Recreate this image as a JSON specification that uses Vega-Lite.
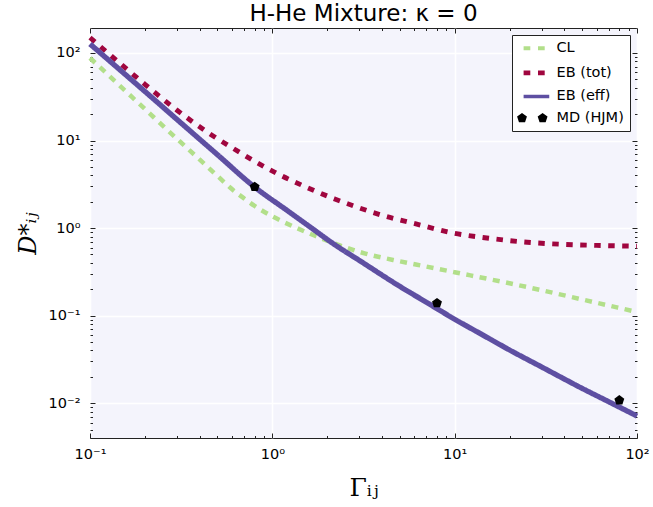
{
  "$schema": "https://vega.github.io/schema/vega-lite/v6.json",
  "width": 547,
  "height": 410,
  "autosize": "none",
  "padding": {"left": 90, "top": 28, "right": 16, "bottom": 69},
  "background": "white",
  "title": {
    "text": "H-He Mixture: κ = 0",
    "font": "DejaVu Sans",
    "fontSize": 23,
    "fontWeight": "normal",
    "color": "black",
    "anchor": "middle",
    "offset": 2
  },
  "config": {
    "view": {"fill": "#f4f4fc", "stroke": "#222222", "strokeWidth": 1},
    "axis": {
      "domain": false,
      "labelFont": "DejaVu Sans",
      "labelFontSize": 14.5,
      "labelColor": "black",
      "labelFlush": false,
      "labelOverlap": false,
      "tickColor": "#222222",
      "tickWidth": 1,
      "gridColor": "white",
      "gridWidth": 1.5
    }
  },
  "datasets": {
    "curves": [
      {"series": "CL", "gamma": 0.1, "d": 87.7},
      {"series": "CL", "gamma": 0.15, "d": 40.0},
      {"series": "CL", "gamma": 0.2, "d": 22.9},
      {"series": "CL", "gamma": 0.3, "d": 10.45},
      {"series": "CL", "gamma": 0.4, "d": 6.04},
      {"series": "CL", "gamma": 0.5, "d": 3.94},
      {"series": "CL", "gamma": 0.6, "d": 2.79},
      {"series": "CL", "gamma": 0.7, "d": 2.18},
      {"series": "CL", "gamma": 0.8, "d": 1.79},
      {"series": "CL", "gamma": 1.0, "d": 1.36},
      {"series": "CL", "gamma": 1.3, "d": 1.045},
      {"series": "CL", "gamma": 1.7, "d": 0.822},
      {"series": "CL", "gamma": 2.3, "d": 0.644},
      {"series": "CL", "gamma": 3.2, "d": 0.515},
      {"series": "CL", "gamma": 5, "d": 0.417},
      {"series": "CL", "gamma": 7, "d": 0.363},
      {"series": "CL", "gamma": 10, "d": 0.313},
      {"series": "CL", "gamma": 20, "d": 0.234},
      {"series": "CL", "gamma": 30, "d": 0.195},
      {"series": "CL", "gamma": 50, "d": 0.153},
      {"series": "CL", "gamma": 100, "d": 0.110},
      {"series": "EB (tot)", "gamma": 0.1, "d": 150},
      {"series": "EB (tot)", "gamma": 0.15, "d": 72.6},
      {"series": "EB (tot)", "gamma": 0.2, "d": 43.9},
      {"series": "EB (tot)", "gamma": 0.3, "d": 22.2},
      {"series": "EB (tot)", "gamma": 0.45, "d": 12.1},
      {"series": "EB (tot)", "gamma": 0.6, "d": 8.3},
      {"series": "EB (tot)", "gamma": 0.8, "d": 5.8},
      {"series": "EB (tot)", "gamma": 1.1, "d": 4.04},
      {"series": "EB (tot)", "gamma": 1.5, "d": 3.0},
      {"series": "EB (tot)", "gamma": 2.2, "d": 2.15},
      {"series": "EB (tot)", "gamma": 3, "d": 1.70},
      {"series": "EB (tot)", "gamma": 4, "d": 1.40},
      {"series": "EB (tot)", "gamma": 6, "d": 1.13},
      {"series": "EB (tot)", "gamma": 10, "d": 0.87},
      {"series": "EB (tot)", "gamma": 15, "d": 0.771},
      {"series": "EB (tot)", "gamma": 25, "d": 0.689},
      {"series": "EB (tot)", "gamma": 40, "d": 0.651},
      {"series": "EB (tot)", "gamma": 60, "d": 0.634},
      {"series": "EB (tot)", "gamma": 100, "d": 0.621},
      {"series": "EB (eff)", "gamma": 0.1, "d": 126.8},
      {"series": "EB (eff)", "gamma": 0.15, "d": 61.1},
      {"series": "EB (eff)", "gamma": 0.2, "d": 36.4},
      {"series": "EB (eff)", "gamma": 0.3, "d": 17.4},
      {"series": "EB (eff)", "gamma": 0.5, "d": 6.89},
      {"series": "EB (eff)", "gamma": 0.8, "d": 2.94},
      {"series": "EB (eff)", "gamma": 1.2, "d": 1.60},
      {"series": "EB (eff)", "gamma": 1.6, "d": 1.04},
      {"series": "EB (eff)", "gamma": 2.2, "d": 0.646},
      {"series": "EB (eff)", "gamma": 3, "d": 0.427},
      {"series": "EB (eff)", "gamma": 5, "d": 0.216},
      {"series": "EB (eff)", "gamma": 7, "d": 0.142},
      {"series": "EB (eff)", "gamma": 10, "d": 0.091},
      {"series": "EB (eff)", "gamma": 14, "d": 0.0614},
      {"series": "EB (eff)", "gamma": 20, "d": 0.0405},
      {"series": "EB (eff)", "gamma": 30, "d": 0.0259},
      {"series": "EB (eff)", "gamma": 50, "d": 0.01476},
      {"series": "EB (eff)", "gamma": 70, "d": 0.01038},
      {"series": "EB (eff)", "gamma": 100, "d": 0.00713}
    ],
    "md": [
      {"series": "MD (HJM)", "gamma": 0.8, "d": 2.96},
      {"series": "MD (HJM)", "gamma": 8, "d": 0.139},
      {"series": "MD (HJM)", "gamma": 80, "d": 0.0108}
    ]
  },
  "layer": [
    {
      "data": {"name": "curves"},
      "mark": {"type": "line", "interpolate": "monotone", "strokeCap": "butt"},
      "encoding": {
        "x": {
          "field": "gamma",
          "type": "quantitative",
          "scale": {"type": "log", "domain": [0.1, 100], "nice": false},
          "axis": {
            "orient": "bottom",
            "values": [0.1, 0.2, 0.3, 0.4, 0.5, 0.6, 0.7, 0.8, 0.9, 1, 2, 3, 4, 5, 6, 7, 8, 9, 10, 20, 30, 40, 50, 60, 70, 80, 90, 100],
            "labelExpr": "datum.value === 0.1 ? '10⁻¹' : datum.value === 1 ? '10⁰' : datum.value === 10 ? '10¹' : datum.value === 100 ? '10²' : ''",
            "tickSize": {"condition": {"test": "abs(log(datum.value)/LN10 - round(log(datum.value)/LN10)) < 0.000001", "value": -5}, "value": -2.5},
            "gridOpacity": {"condition": {"test": "abs(log(datum.value)/LN10 - round(log(datum.value)/LN10)) < 0.000001", "value": 1}, "value": 0},
            "labelPadding": 14,
            "title": "Γᵢⱼ",
            "titleFont": "DejaVu Serif",
            "titleFontSize": 25,
            "titleFontWeight": "normal",
            "titleColor": "black",
            "titlePadding": 12
          }
        },
        "y": {
          "field": "d",
          "type": "quantitative",
          "scale": {"type": "log", "domain": [0.004, 193], "nice": false},
          "axis": {
            "orient": "left",
            "values": [0.004, 0.005, 0.006, 0.007, 0.008, 0.009, 0.01, 0.02, 0.03, 0.04, 0.05, 0.06, 0.07, 0.08, 0.09, 0.1, 0.2, 0.3, 0.4, 0.5, 0.6, 0.7, 0.8, 0.9, 1, 2, 3, 4, 5, 6, 7, 8, 9, 10, 20, 30, 40, 50, 60, 70, 80, 90, 100],
            "labelExpr": "datum.value === 0.01 ? '10⁻²' : datum.value === 0.1 ? '10⁻¹' : datum.value === 1 ? '10⁰' : datum.value === 10 ? '10¹' : datum.value === 100 ? '10²' : ''",
            "tickSize": {"condition": {"test": "abs(log(datum.value)/LN10 - round(log(datum.value)/LN10)) < 0.000001", "value": -5}, "value": -2.5},
            "gridOpacity": {"condition": {"test": "abs(log(datum.value)/LN10 - round(log(datum.value)/LN10)) < 0.000001", "value": 1}, "value": 0},
            "labelPadding": 15,
            "title": "D*ᵢⱼ",
            "titleFont": "DejaVu Serif",
            "titleFontStyle": "italic",
            "titleFontSize": 24,
            "titleFontWeight": "normal",
            "titleColor": "black",
            "titlePadding": 8
          }
        },
        "color": {
          "field": "series",
          "type": "nominal",
          "sort": ["CL", "EB (tot)", "EB (eff)", "MD (HJM)"],
          "scale": {
            "domain": ["CL", "EB (tot)", "EB (eff)", "MD (HJM)"],
            "range": ["#b2df8a", "#a0063f", "#5e4fa2", "#000000"]
          },
          "legend": {
            "title": null,
            "orient": "top-right",
            "offset": 7,
            "fillColor": "white",
            "strokeColor": "#222222",
            "padding": 6,
            "rowPadding": 5.6,
            "symbolSize": 225,
            "symbolOffset": 5.7,
            "labelOffset": 18.3,
            "labelFont": "DejaVu Sans",
            "labelFontSize": 14.5,
            "labelColor": "black",
            "encode": {
              "symbols": {
                "update": {
                  "shape": {"signal": "datum.value === 'MD (HJM)' ? 'M-1.193,-0.69L-0.537,-0.213L-0.787,0.558L-1.599,0.558L-1.849,-0.213ZM1.553,-0.69L2.209,-0.213L1.959,0.558L1.147,0.558L0.897,-0.213Z' : 'M-0.98,0H2.44'"},
                  "fill": {"signal": "datum.value === 'MD (HJM)' ? '#000000' : 'transparent'"},
                  "stroke": {"signal": "datum.value === 'CL' ? '#b2df8a' : datum.value === 'EB (tot)' ? '#a0063f' : datum.value === 'EB (eff)' ? '#5e4fa2' : 'transparent'"},
                  "strokeWidth": {"signal": "datum.value === 'CL' ? 4 : datum.value === 'EB (tot)' ? 4.7 : datum.value === 'EB (eff)' ? 3.5 : 0"},
                  "strokeDash": {"signal": "datum.value === 'EB (eff)' ? [1, 0] : [6.7, 7.7]"},
                  "size": {"value": 225},
                  "opacity": {"value": 1}
                }
              }
            }
          }
        },
        "strokeDash": {
          "field": "series",
          "type": "nominal",
          "scale": {"domain": ["CL", "EB (tot)", "EB (eff)"], "range": [[7, 6.5], [6.5, 7.5], [1, 0]]},
          "legend": null
        },
        "strokeWidth": {
          "field": "series",
          "type": "nominal",
          "scale": {"domain": ["CL", "EB (tot)", "EB (eff)"], "range": [4.5, 5.3, 4]},
          "legend": null
        }
      }
    },
    {
      "data": {"name": "md"},
      "mark": {
        "type": "point",
        "filled": true,
        "opacity": 1,
        "size": 108,
        "shape": "M0,-1L0.951,-0.309L0.588,0.809L-0.588,0.809L-0.951,-0.309Z"
      },
      "encoding": {
        "x": {
          "field": "gamma",
          "type": "quantitative",
          "axis": {
            "orient": "top",
            "values": [0.1, 0.2, 0.3, 0.4, 0.5, 0.6, 0.7, 0.8, 0.9, 1, 2, 3, 4, 5, 6, 7, 8, 9, 10, 20, 30, 40, 50, 60, 70, 80, 90, 100],
            "labels": false,
            "grid": false,
            "title": null,
            "tickSize": {"condition": {"test": "abs(log(datum.value)/LN10 - round(log(datum.value)/LN10)) < 0.000001", "value": -5}, "value": -2.5}
          }
        },
        "y": {
          "field": "d",
          "type": "quantitative",
          "axis": {
            "orient": "right",
            "values": [0.004, 0.005, 0.006, 0.007, 0.008, 0.009, 0.01, 0.02, 0.03, 0.04, 0.05, 0.06, 0.07, 0.08, 0.09, 0.1, 0.2, 0.3, 0.4, 0.5, 0.6, 0.7, 0.8, 0.9, 1, 2, 3, 4, 5, 6, 7, 8, 9, 10, 20, 30, 40, 50, 60, 70, 80, 90, 100],
            "labels": false,
            "grid": false,
            "title": null,
            "tickSize": {"condition": {"test": "abs(log(datum.value)/LN10 - round(log(datum.value)/LN10)) < 0.000001", "value": -5}, "value": -2.5}
          }
        },
        "color": {"field": "series", "type": "nominal"}
      }
    }
  ],
  "resolve": {"axis": {"x": "independent", "y": "independent"}}
}
